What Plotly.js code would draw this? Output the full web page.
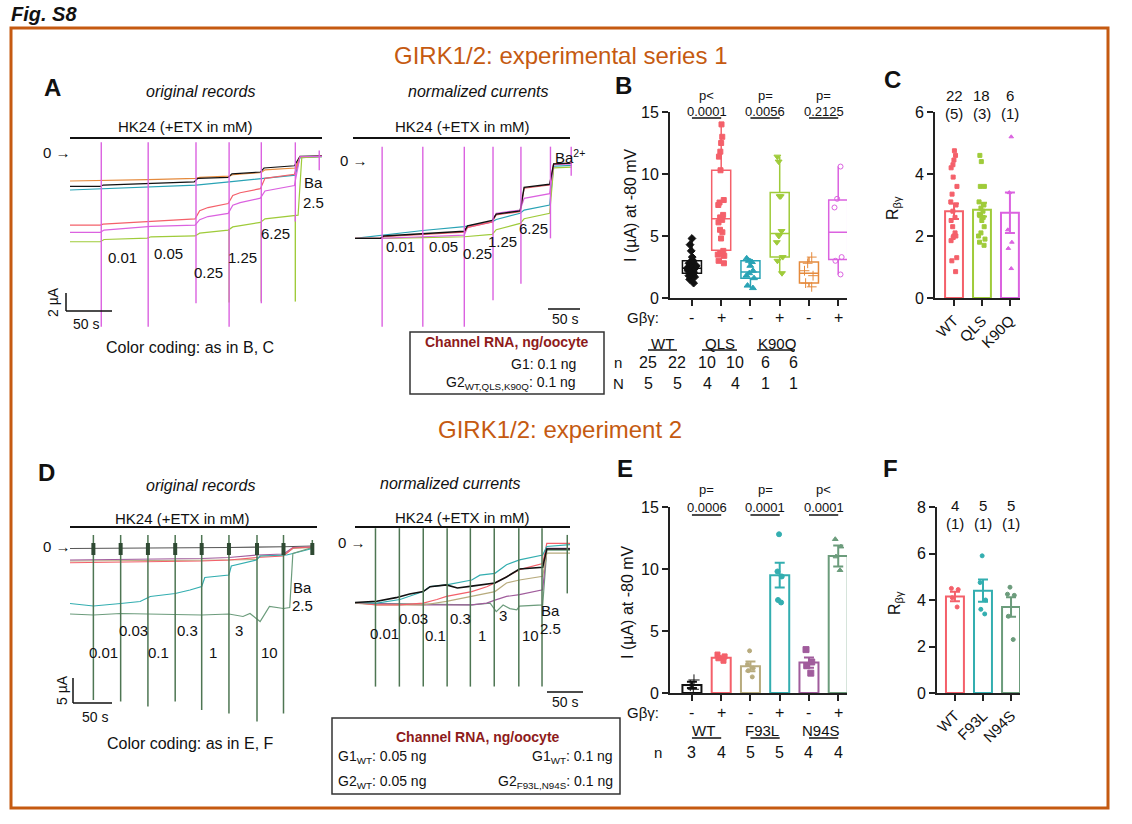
<!DOCTYPE html>
<html><head><meta charset="utf-8">
<script src="https://cdn.plot.ly/plotly-3.0.1.min.js"></script>
<style>body{margin:0;background:#fff}#c{width:1132px;height:824px}</style>
</head><body><div id="c"></div><script>
// ---------- Panel A: original records (time s, current µA) ----------
const aoOrangeT=[0,34,85,137,141,173,177,208,212,245,250,274];
const aoOrangeI=[-3.0,-2.95,-2.85,-2.7,-2.6,-2.45,-2.3,-2.05,-1.75,-1.55,-0.3,-0.25];
const aoTealT=[0,85,137,173,208,245,250,274];
const aoTealI=[-4.0,-3.7,-3.45,-3.1,-2.75,-2.35,-0.4,-0.3];
const aoBlackT=[0,33,36,84,87,135,139,172,176,207,211,244,250,274];
const aoBlackI=[-3.6,-3.6,-3.45,-3.3,-3.25,-3.1,-2.7,-2.6,-2.2,-2.0,-1.55,-1.3,-0.25,-0.2];
const aoRedT=[0,33,36,84,88,136,141,150,172,177,185,207,212,244,250,274];
const aoRedI=[-7.9,-7.9,-7.8,-7.55,-7.45,-7.2,-6.3,-5.95,-5.5,-4.6,-4.3,-3.85,-2.7,-2.25,-0.3,-0.25];
const aoMagT=[0,33,37,84,88,136,141,150,172,177,185,207,212,244,250,274];
const aoMagI=[-8.7,-8.7,-8.45,-8.15,-8.05,-7.9,-7.3,-6.95,-6.6,-5.7,-5.4,-4.9,-4.1,-3.5,-0.3,-0.25];
const aoGreenT=[0,33,37,84,88,136,141,172,177,207,212,248,252,274];
const aoGreenI=[-9.75,-9.75,-9.5,-9.35,-9.2,-9.1,-8.8,-8.45,-8.1,-7.6,-7.2,-6.8,-0.4,-0.3];
const aoSpikeT=[34,85,137,173,208,245,271];
const aoSpikeTop=[1.3,1.3,1.3,1.3,1.3,1.3,0.4];
const aoSpikeBot=[-19.2,-19.2,-16.6,-19.2,-16.6,-7.5,-1.8];
const aoGSpikeT=[173,208,245];
const aoGSpikeTop=[-8.4,-7.6,-6.8];
const aoGSpikeBot=[-16.5,-16.4,-16.4];
// ---------- Panel A: normalized currents ----------
const anBlackT=[0,32,36,85,137,141,172,177,207,212,244,249,272];
const anBlackI=[-1.0,-1.0,-0.97,-0.94,-0.91,-0.84,-0.77,-0.69,-0.65,-0.35,-0.31,-0.05,-0.04];
const anRedI=[-1.0,-1.0,-0.98,-0.95,-0.92,-0.86,-0.79,-0.70,-0.66,-0.36,-0.32,-0.05,-0.04];
const anMagT=[0,32,85,137,141,172,177,207,212,244,249,272];
const anMagI=[-1.0,-1.0,-0.98,-0.96,-0.86,-0.79,-0.68,-0.64,-0.49,-0.43,-0.06,-0.05];
const anTealT=[0,32,85,137,172,177,207,212,244,249,272];
const anTealI=[-1.0,-0.96,-0.9,-0.85,-0.79,-0.76,-0.68,-0.64,-0.575,-0.08,-0.07];
const anGreenI=[-1.0,-1.0,-0.99,-0.98,-0.95,-0.89,-0.81,-0.75,-0.68,-0.1,-0.09];
const anSpikeT=[34,85,137,173,208,245,271];
const anSpikeTop=[0.17,0.17,0.17,0.17,0.17,0.17,0.17];
const anSpikeBot=[-2.13,-2.13,-2.13,-1.79,-1.58,-1.0,-0.2];
// ---------- Panel D: original records ----------
const doBlackT=[0,100,204,274,311];
const doBlackI=[-0.5,-0.45,-0.3,-0.15,0];
const doOliveT=[0,100,204,240,244,274,286,311];
const doOliveI=[-3.0,-2.95,-2.8,-2.7,-2.0,-1.9,-0.5,-0.3];
const doPurpleT=[0,100,169,204,240,274,286,311];
const doPurpleI=[-2.8,-2.7,-2.5,-2.3,-1.8,-1.6,-0.3,-0.2];
const doRedT=[0,100,169,204,240,274,286,311];
const doRedI=[-3.35,-3.2,-3.0,-2.8,-2.3,-2.0,-0.4,-0.2];
const doTealT=[0,30,65,90,103,135,154,169,173,204,207,239,244,278,286,311];
const doTealI=[-11.5,-12.0,-11.5,-11.1,-10.1,-9.5,-8.8,-8.1,-6.3,-5.8,-4.0,-2.8,-2.0,-1.8,-1.5,-0.5];
const doGreenT=[0,30,65,90,169,204,222,231,244,256,274,282,286,311];
const doGreenI=[-13.6,-13.8,-13.5,-13.6,-13.8,-13.6,-14.1,-13.5,-15.1,-12.1,-12.5,-12.3,-1.5,-0.3];
const doSpikeT=[30,65,100,135,169,204,240,274,311];
const doSpikeTop=[2.2,2.2,2.2,2.2,2.2,2.2,2.2,2.2,1.2];
const doSpikeBot=[-30.8,-31.1,-32.1,-31.1,-32.8,-33.5,-35.1,-33.5,-1.5];
// ---------- Panel D: normalized currents ----------
const dnBlackT=[0,32,60,66,80,100,110,134,150,171,205,222,241,275,281,315];
const dnBlackI=[-1.0,-0.98,-0.92,-0.90,-0.86,-0.82,-0.74,-0.71,-0.76,-0.73,-0.68,-0.58,-0.45,-0.42,-0.12,-0.12];
const dnTealT=[0,32,66,80,100,110,134,171,183,205,222,241,275,281,315];
const dnTealI=[-1.0,-1.01,-0.95,-0.90,-0.82,-0.74,-0.71,-0.63,-0.55,-0.52,-0.38,-0.30,-0.22,-0.08,-0.05];
const dnRedT=[0,32,66,100,120,134,171,193,205,222,241,275,281,315];
const dnRedI=[-1.0,-1.04,-1.04,-1.01,-0.95,-0.90,-0.82,-0.74,-0.68,-0.57,-0.46,-0.36,-0.03,-0.03];
const dnOliveT=[0,32,66,100,134,171,205,222,241,275,281,315];
const dnOliveI=[-1.01,-1.04,-1.04,-1.04,-0.98,-0.90,-0.82,-0.68,-0.63,-0.57,-0.19,-0.19];
const dnPurpleT=[0,100,171,193,205,222,241,275,281,315];
const dnPurpleI=[-1.01,-1.04,-1.04,-1.01,-0.96,-0.90,-0.87,-0.79,-0.11,-0.11];
const dnGreenT=[0,171,198,207,217,227,237,241,275,281,315];
const dnGreenI=[-1.01,-1.04,-1.01,-1.15,-1.04,-1.10,-1.12,-1.06,-1.04,-0.14,-0.14];
const dnSpikeT=[30,65,100,135,169,204,240,274,311];
const dnSpikeTop=[0.22,0.22,0.22,0.22,0.22,0.22,0.22,0.22,0.11];
const dnSpikeBot=[-2.38,-2.38,-2.38,-2.38,-2.38,-2.38,-2.38,-2.38,-0.85];
// ---------- Panel B ----------
const bSign=['-','+','-','+','-','+'];
const bMin=[1.2,2.8,0.8,2.0,0.9,1.9];
const bQ1=[2.0,3.85,1.6,3.3,1.2,3.1];
const bMed=[2.4,6.4,2.1,5.2,2.0,5.3];
const bQ3=[3.0,10.3,3.0,8.5,2.9,7.9];
const bMax=[4.8,14.0,3.2,11.4,3.3,10.6];
const bWTm=[1.2,1.5,1.7,1.8,1.9,2.0,2.0,2.1,2.2,2.2,2.3,2.3,2.4,2.4,2.5,2.6,2.7,2.8,2.9,3.0,3.0,3.3,3.8,4.3,4.8];
const bWTp=[2.8,3.0,3.4,3.5,3.6,3.8,4.8,5.3,5.5,6.1,6.3,6.5,6.7,7.5,7.7,7.9,10.3,11.4,11.8,12.5,13.0,14.0];
const bQLSm=[0.8,1.0,1.6,1.8,2.0,2.2,2.6,2.9,3.0,3.2];
const bQLSp=[2.0,3.0,3.3,4.5,5.0,5.4,8.2,8.2,11.0,11.4];
const bK90Qm=[0.9,1.2,1.8,2.2,2.8,3.3];
const bK90Qp=[1.9,3.0,3.3,7.3,8.0,10.6];
const bGroups=['WT','QLS','K90Q'];
const bPpre=['p<','p=','p='];
const bPval=['0.0001','0.0056','0.2125'];
const bNn=[25,22,10,10,6,6];
const bNN=[5,5,4,4,1,1];
// ---------- Panel C ----------
const cCats=['WT','QLS','K90Q'];
const cMean=[2.8,2.85,2.75];
const cSem=[0.25,0.22,0.65];
const cN=[22,18,6];
const cNN=[5,3,1];
const cWT=[4.75,4.6,4.45,4.3,4.2,3.9,3.6,3.35,3.1,3.0,2.8,2.6,2.5,2.3,2.1,2.0,2.0,1.95,1.85,1.3,1.2,0.85];
const cQLS=[4.6,4.4,3.6,3.6,3.1,3.0,2.9,2.8,2.7,2.65,2.6,2.5,2.3,2.1,2.0,1.9,1.8,1.7];
const cK90Q=[5.2,3.4,2.2,1.8,1.6,0.95];
// ---------- Panel E ----------
const eSign=['-','+','-','+','-','+'];
const eMean=[0.65,2.85,2.15,9.5,2.45,11.05];
const eSem=[0.25,0.12,0.4,1.0,0.42,0.85];
const eN=[3,4,5,5,4,4];
const eGroups=['WT','F93L','N94S'];
const ePpre=['p=','p=','p<'];
const ePval=['0.0006','0.0001','0.0001'];
const eWTm=[1.05,0.6,0.3];
const eWTp=[3.1,2.95,2.8,2.6];
const eF93Lm=[3.4,2.3,2.0,1.8,1.3];
const eF93Lp=[12.8,9.8,9.4,7.5,7.3];
const eN94Sm=[3.5,2.5,2.2,1.6];
const eN94Sp=[12.4,11.8,11.0,9.9];
// ---------- Panel F ----------
const fCats=['WT','F93L','N94S'];
const fMean=[4.15,4.4,3.7];
const fSem=[0.2,0.48,0.42];
const fN=[4,5,5];
const fNN=[1,1,1];
const fWT=[4.5,4.45,4.1,3.7];
const fF93L=[5.9,4.75,4.0,3.6,3.4];
const fN94S=[4.55,4.25,4.2,3.3,2.3];

// ---------- styling ----------
const FONT='Liberation Sans, Arial, sans-serif';
const W=1132,H=824;
const RED='#F4606A',LIME='#9FCB3A',TEAL='#29A3B5',ORANGE='#E58A3C',MAG='#DB62E0',BLK='#111111';
const eColors=['#111111','#F4606A','#B8AB7D','#33AEB0','#A05C9C','#6C9C7C'];
const fColors=['#F4606A','#33AEB0','#6C9C7C'];
const DGREEN='#4E7653';
const TITLEC='#C55A11', BOXRED='#8E1B1B';
const px=x=>x/W, py=y=>1-y/H;
const domX=(a,b)=>[a/W,b/W];
const domY=(top,bot)=>[1-bot/H,1-top/H];

const traces=[];
function line(t,i,xa,ya,color,w){traces.push({type:'scatter',mode:'lines',x:t,y:i,xaxis:xa,yaxis:ya,line:{color,width:w||1.2},hoverinfo:'skip'});}
function spikes(t,top,bot,xa,ya,color,w){
  const xs=[],ys=[];
  t.forEach((v,k)=>{xs.push(v,v,null);ys.push(top[k],bot[k],null);});
  traces.push({type:'scatter',mode:'lines',x:xs,y:ys,xaxis:xa,yaxis:ya,line:{color,width:w||1.4},hoverinfo:'skip'});
}
function pts(vals,pos,xa,ya,color,symbol,size,jit){
  traces.push({type:'box',y:vals,x0:pos,xaxis:xa,yaxis:ya,boxpoints:'all',jitter:jit,pointpos:0,width:0.6,
    line:{width:0,color:'rgba(0,0,0,0)'},fillcolor:'rgba(0,0,0,0)',marker:{color,symbol,size,line:{color,width:1}},hoverinfo:'skip'});
}
function bar(pos,m,s,xa,ya,color,w){
  traces.push({type:'bar',x:[pos],y:[m],width:w,xaxis:xa,yaxis:ya,marker:{color:'rgba(255,255,255,0)',line:{color,width:2}},
    error_y:{type:'data',array:[s],visible:true,color,thickness:2,width:5},hoverinfo:'skip'});
}

// Panel A original
line(aoOrangeT,aoOrangeI,'x','y',ORANGE);
line(aoTealT,aoTealI,'x','y',TEAL);
line(aoBlackT,aoBlackI,'x','y',BLK);
line(aoRedT,aoRedI,'x','y',RED);
line(aoGreenT,aoGreenI,'x','y',LIME);
line(aoMagT,aoMagI,'x','y',MAG);
spikes(aoGSpikeT,aoGSpikeTop,aoGSpikeBot,'x','y',LIME);
spikes(aoSpikeT,aoSpikeTop,aoSpikeBot,'x','y',MAG);
// Panel A normalized
line(anTealT,anTealI,'x2','y2',TEAL);
line(anTealT,anGreenI,'x2','y2',LIME);
line(anMagT,anMagI,'x2','y2',MAG);
line(anBlackT,anRedI,'x2','y2',RED);
line(anBlackT,anBlackI,'x2','y2',BLK,1.4);
spikes(anSpikeT,anSpikeTop,anSpikeBot,'x2','y2',MAG);
// Panel D original
line(doBlackT,doBlackI,'x5','y5','#555555');
line(doOliveT,doOliveI,'x5','y5',eColors[2]);
line(doPurpleT,doPurpleI,'x5','y5',eColors[4]);
line(doRedT,doRedI,'x5','y5',RED);
line(doTealT,doTealI,'x5','y5',eColors[3]);
line(doGreenT,doGreenI,'x5','y5',eColors[5]);
spikes(doSpikeT,doSpikeTop,doSpikeBot,'x5','y5',DGREEN,1.5);
spikes(doSpikeT,doSpikeTop.map(()=>0.6),doSpikeTop.map(()=>-1.8),'x5','y5','#2F4A33',4);
// Panel D normalized
line(dnGreenT,dnGreenI,'x6','y6',eColors[5]);
line(dnPurpleT,dnPurpleI,'x6','y6',eColors[4]);
line(dnOliveT,dnOliveI,'x6','y6',eColors[2]);
line(dnRedT,dnRedI,'x6','y6',RED);
line(dnTealT,dnTealI,'x6','y6',eColors[3]);
line(dnBlackT,dnBlackI,'x6','y6',BLK,1.6);
spikes(dnSpikeT,dnSpikeTop,dnSpikeBot,'x6','y6',DGREEN,1.5);

// Panel B boxes
const bColors=[BLK,RED,TEAL,LIME,ORANGE,MAG];
bColors.forEach((c,k)=>{
  traces.push({type:'box',x:[k],q1:[bQ1[k]],median:[bMed[k]],q3:[bQ3[k]],lowerfence:[bMin[k]],upperfence:[bMax[k]],
    xaxis:'x3',yaxis:'y3',width:0.65,whiskerwidth:0,line:{color:c,width:1.5},fillcolor:'rgba(0,0,0,0)',boxpoints:false,hoverinfo:'skip'});
});
pts(bWTm,0,'x3','y3',BLK,'diamond',6,0.6);
pts(bWTp,1,'x3','y3',RED,'square',5,0.6);
pts(bQLSm,2,'x3','y3',TEAL,'triangle-up',6,0.6);
pts(bQLSp,3,'x3','y3',LIME,'triangle-down',6,0.5);
pts(bK90Qm,4,'x3','y3',ORANGE,'cross-thin-open',7,0.6);
pts(bK90Qp,5,'x3','y3',MAG,'circle-open',5,0.5);

// Panel C
const cColors=[RED,LIME,MAG];
cColors.forEach((c,k)=>bar(k,cMean[k],cSem[k],'x4','y4',c,0.64));
pts(cWT,0,'x4','y4',RED,'square',4,0.5);
pts(cQLS,1,'x4','y4',LIME,'square',4,0.5);
pts(cK90Q,2,'x4','y4',MAG,'triangle-up',4,0.3);

// Panel E
eColors.forEach((c,k)=>bar(k,eMean[k],eSem[k],'x7','y7',c,0.65));
pts(eWTm,0,'x7','y7',eColors[0],'cross-thin-open',8,0.3);
pts(eWTp,1,'x7','y7',eColors[1],'square',5,0.5);
pts(eF93Lm,2,'x7','y7',eColors[2],'circle',4,0.4);
pts(eF93Lp,3,'x7','y7',eColors[3],'circle',5,0.3);
pts(eN94Sm,4,'x7','y7',eColors[4],'square',6,0.4);
pts(eN94Sp,5,'x7','y7',eColors[5],'triangle-up',5,0.4);

// Panel F
fColors.forEach((c,k)=>bar(k,fMean[k],fSem[k],'x8','y8',c,0.64));
pts(fWT,0,'x8','y8',fColors[0],'circle',4,0.5);
pts(fF93L,1,'x8','y8',fColors[1],'circle',4,0.4);
pts(fN94S,2,'x8','y8',fColors[2],'circle',4,0.5);

// ---------- annotations & shapes ----------
const ann=[];const shp=[];
function T(text,x,y,size,o){ann.push(Object.assign({text,x:px(x),y:py(y),xref:'paper',yref:'paper',showarrow:false,xanchor:'center',yanchor:'middle',
  font:{family:FONT,size:size||14,color:(o&&o.color)||'#111'}},o?(({color,...r})=>r)(o):{}));}
function TX(text,xa,xv,y,size){ann.push({text,x:xv,y:py(y),xref:xa,yref:'paper',showarrow:false,xanchor:'center',yanchor:'middle',font:{family:FONT,size:size||14,color:'#111'}});}
function L(x0,y0,x1,y1,color,w){shp.push({type:'line',xref:'paper',yref:'paper',x0:px(x0),y0:py(y0),x1:px(x1),y1:py(y1),line:{color:color||'#111',width:w||1.5}});}
function LX(xa,a,b,y,w){shp.push({type:'line',xref:xa,yref:'paper',x0:a,x1:b,y0:py(y),y1:py(y),line:{color:'#111',width:w||1.5}});}
function R(x0,y0,x1,y1,color,w){shp.push({type:'rect',xref:'paper',yref:'paper',x0:px(x0),y0:py(y0),x1:px(x1),y1:py(y1),line:{color,width:w}});}

T('<b><i>Fig. S8</i></b>',9,14,20,{xanchor:'left'});
R(11,28,1108,808,TITLEC,3);
T('GIRK1/2: experimental series 1',560,55,24,{color:TITLEC});
T('GIRK1/2: experiment 2',560,429,24,{color:TITLEC});

// Panel A
T('<b>A</b>',52,87,24);
T('<i>original records</i>',200,92,16);
T('<i>normalized currents</i>',478,92,16);
T('HK24 (+ETX in mM)',185,126,15); L(70,138,322,138,'#111',2);
T('HK24 (+ETX in mM)',462,127,15); L(353,138,570,138,'#111',2);
T('0 →',57,153,15); T('0 →',354,160,15);
[['0.01',122,257],['0.05',168,253],['0.25',208,272],['1.25',242,257],['6.25',275,233],['Ba',313,183],['2.5',313,203]].forEach(a=>T(a[0],a[1],a[2],15));
[['0.01',400,247],['0.05',443,247],['0.25',477,253],['1.25',502,242],['6.25',533,228]].forEach(a=>T(a[0],a[1],a[2],15));
T('Ba<sup>2+</sup>',553,157,15,{xanchor:'left'});
L(66,293,66,311,'#111',1.5); L(66,311,112,311,'#111',1.5);
T('2 µA',53,302,14,{textangle:-90}); T('50 s',86,324,14);
L(548,309,580,309,'#111',1.5); T('50 s',565,319,14);
T('Color coding: as in B, C',190,347,16);
R(410,332,604,394,'#333',1.5);
T('<b>Channel RNA, ng/oocyte</b>',507,342,14,{color:BOXRED});
T('G1: 0.1 ng',578,364,14,{xanchor:'right'});
T('G2<sub>WT,QLS,K90Q</sub>: 0.1 ng',578,383,14,{xanchor:'right'});

// Panel B
T('<b>B</b>',623,85,24);
T('I (µA) at -80 mV',630,205,16,{textangle:-90});
bPpre.forEach((p,k)=>{TX(p,'x3',2*k+0.5,95,13);TX(bPval[k],'x3',2*k+0.5,111,13);LX('x3',2*k,2*k+1,118,1.5);});
T('Gβγ:',643,318,15);
bSign.forEach((s,k)=>TX(s,'x3',k,318,16));
const bGX=[662,720,777],bGU=[[648,677],[702,737],[757,795]];
bGroups.forEach((g,k)=>{T(g,bGX[k],343,15);L(bGU[k][0],350,bGU[k][1],350,'#111',1.5);});
const bColX=[648,677,707,735,765,793];
T('n',618,362,15); bNn.forEach((v,k)=>T(String(v),bColX[k],362,16));
T('N',618,383,15); bNN.forEach((v,k)=>T(String(v),bColX[k],383,16));

// Panel C
T('<b>C</b>',892,80,24);
T('R<sub>βγ</sub>',893,208,16,{textangle:-90});
cN.forEach((v,k)=>{TX(String(v),'x4',k,95,15);TX('('+cNN[k]+')','x4',k,113,15);});

// Panel D
T('<b>D</b>',47,472,24);
T('<i>original records</i>',200,485,16);
T('<i>normalized currents</i>',450,483,16);
T('HK24 (+ETX in mM)',182,518,15); L(70,527,317,527,'#111',2);
T('HK24 (+ETX in mM)',462,517,15); L(355,527,570,527,'#111',2);
T('0 →',57,546,15); T('0 →',352,542,15);
[['0.03',133,630],['0.3',187,630],['3',239,630],['0.01',103,652],['0.1',158,652],['1',213,652],['10',269,652],['Ba',302,587],['2.5',302,605]].forEach(a=>T(a[0],a[1],a[2],15));
[['0.03',413,618],['0.3',460,618],['3',503,615],['0.01',385,633],['0.1',435,635],['1',482,635],['10',530,635],['Ba',550,610],['2.5',550,628]].forEach(a=>T(a[0],a[1],a[2],15));
L(73,678,73,703,'#111',1.5); L(73,703,112,703,'#111',1.5);
T('5 µA',62,690,14,{textangle:-90}); T('50 s',95,717,14);
L(547,692,583,692,'#111',1.5); T('50 s',565,702,14);
T('Color coding: as in E, F',190,743,16);
R(332,718,620,794,'#333',1.5);
T('<b>Channel RNA, ng/oocyte</b>',478,737,14,{color:BOXRED});
T('G1<sub>WT</sub>: 0.05 ng',336,757,14,{xanchor:'left'});
T('G1<sub>WT</sub>: 0.1 ng',615,757,14,{xanchor:'right'});
T('G2<sub>WT</sub>: 0.05 ng',336,782,14,{xanchor:'left'});
T('G2<sub>F93L,N94S</sub>: 0.1 ng',615,782,14,{xanchor:'right'});

// Panel E
T('<b>E</b>',625,468,24);
T('I (µA) at -80 mV',627,602,16,{textangle:-90});
ePpre.forEach((p,k)=>{TX(p,'x7',2*k+0.5,490,13);TX(ePval[k],'x7',2*k+0.5,507,13);LX('x7',2*k,2*k+1,515,1.5);});
T('Gβγ:',643,712,15);
eSign.forEach((s,k)=>TX(s,'x7',k,712,16));
eGroups.forEach((g,k)=>{TX(g,'x7',2*k+0.4,730,15);LX('x7',2*k,2*k+1,738,1.5);});
T('n',658,752,15); eN.forEach((v,k)=>TX(String(v),'x7',k,752,16));

// Panel F
T('<b>F</b>',890,468,24);
T('R<sub>βγ</sub>',895,603,16,{textangle:-90});
fN.forEach((v,k)=>{TX(String(v),'x8',k,505,15);TX('('+fNN[k]+')','x8',k,523,15);});

// ---------- axes ----------
const hid=(d,r)=>({domain:d,range:r,visible:false,fixedrange:true});
function ax(d,r,extra){return Object.assign({domain:d,range:r,showline:true,linecolor:'#222',linewidth:2,ticks:'outside',ticklen:6,tickwidth:2,tickcolor:'#222',
  showgrid:false,zeroline:false,fixedrange:true,tickfont:{family:FONT,size:16,color:'#111'}},extra);}
const layout={width:W,height:H,margin:{l:0,r:0,t:0,b:0},paper_bgcolor:'#fff',plot_bgcolor:'rgba(0,0,0,0)',showlegend:false,
  boxmode:'overlay',barmode:'overlay',font:{family:FONT},
  xaxis:hid(domX(70,322),[0,274]), yaxis:hid(domY(140,330),[-19.56,1.56]),
  xaxis2:hid(domX(355,572),[0,272]), yaxis2:hid(domY(140,330),[-2.17,0.255]),
  xaxis3:ax(domX(670,847),[-0.75,5.3],{anchor:'y3',tickvals:[0,1,2,3,4,5],showticklabels:false}),
  yaxis3:ax(domY(112,298),[0,15],{anchor:'x3',tickvals:[0,5,10,15]}),
  xaxis4:ax(domX(935,1020),[-0.68,2.36],{anchor:'y4',tickvals:[0,1,2],ticktext:cCats,tickangle:-45,tickfont:{family:FONT,size:15,color:'#111'}}),
  yaxis4:ax(domY(112,298),[0,6],{anchor:'x4',tickvals:[0,2,4,6]}),
  xaxis5:hid(domX(70,317),[0,317]), yaxis5:hid(domY(527,725),[-35.8,3.8]),
  xaxis6:hid(domX(355,570),[0,315]), yaxis6:hid(domY(527,700),[-2.6,0.24]),
  xaxis7:ax(domX(670,847),[-0.75,5.3],{anchor:'y7',tickvals:[0,1,2,3,4,5],showticklabels:false}),
  yaxis7:ax(domY(507,693),[0,15],{anchor:'x7',tickvals:[0,5,10,15]}),
  xaxis8:ax(domX(937,1020),[-0.64,2.32],{anchor:'y8',tickvals:[0,1,2],ticktext:fCats,tickangle:-45,tickfont:{family:FONT,size:15,color:'#111'}}),
  yaxis8:ax(domY(507,693),[0,8],{anchor:'x8',tickvals:[0,2,4,6,8]}),
  annotations:ann, shapes:shp};
Plotly.newPlot('c',traces,layout,{staticPlot:true,displayModeBar:false});
</script></body></html>
